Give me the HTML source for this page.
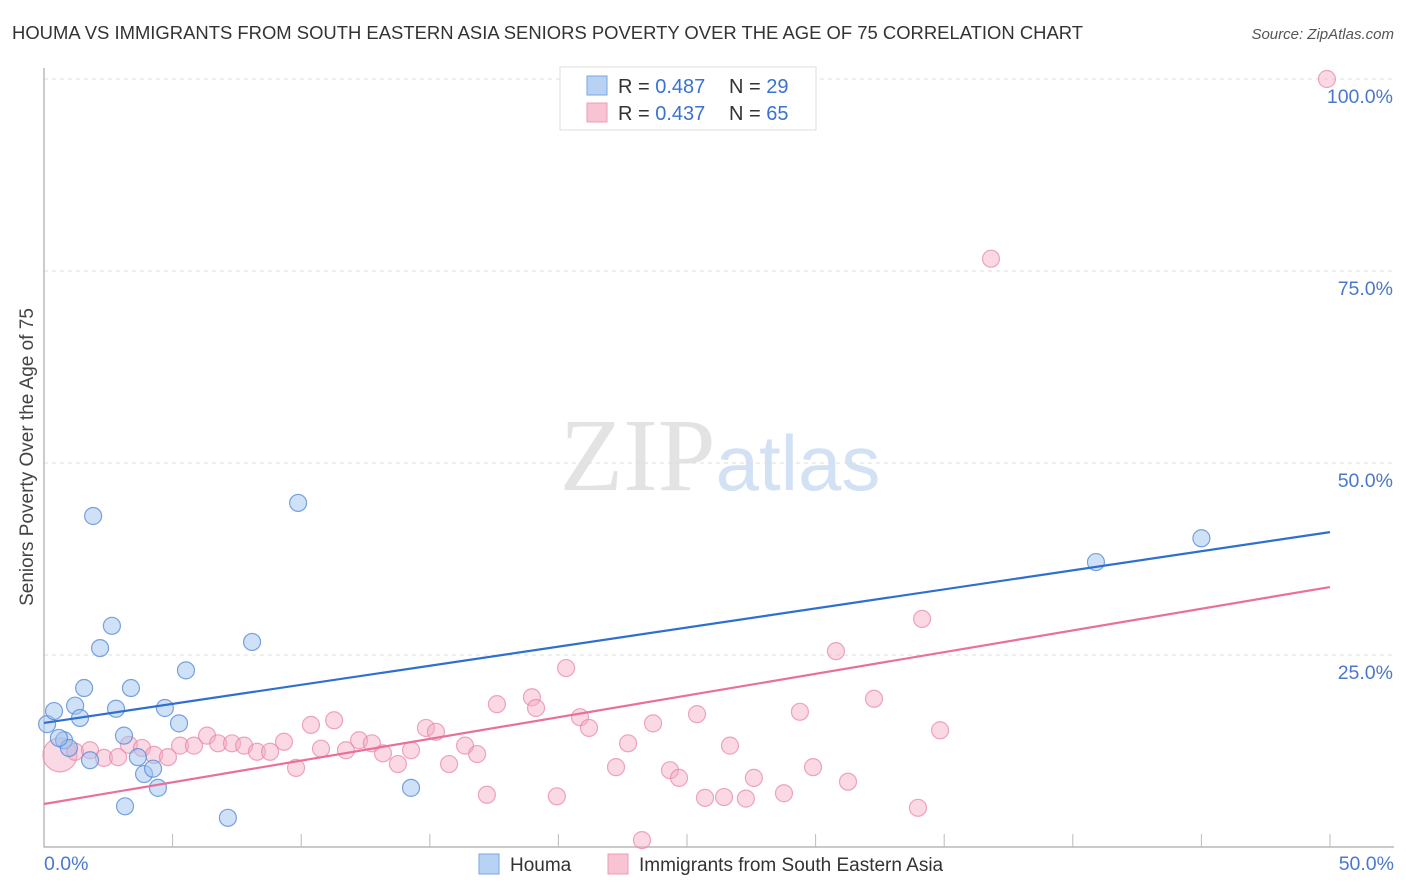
<!DOCTYPE html>
<html><head><meta charset="utf-8"><style>
body{margin:0;background:#fff;font-family:"Liberation Sans",sans-serif}
svg{display:block}
</style></head><body>
<svg id="chart" width="1406" height="892" xmlns="http://www.w3.org/2000/svg">
<text x="12" y="39" font-size="18.5" fill="#333" textLength="1071" lengthAdjust="spacingAndGlyphs">HOUMA VS IMMIGRANTS FROM SOUTH EASTERN ASIA SENIORS POVERTY OVER THE AGE OF 75 CORRELATION CHART</text>
<text x="1394" y="39" font-size="15" fill="#555" text-anchor="end" font-style="italic">Source: ZipAtlas.com</text>
<text x="720" y="490" font-size="104" text-anchor="middle" font-family="Liberation Serif,serif" fill="#ddd" opacity="0.8">ZIP<tspan font-family="Liberation Sans,sans-serif" fill="#c9daf2" font-size="78">atlas</tspan></text>
<text transform="translate(33,457) rotate(-90)" font-size="19" fill="#444" text-anchor="middle">Seniors Poverty Over the Age of 75</text>
<g id="grid"></g><g id="pts"></g><g id="lines"></g>
<g>
<rect x="560" y="67" width="256" height="63" fill="#fff" stroke="#ddd"/>
<rect x="587" y="76" width="20" height="19" fill="#b8d2f4" stroke="#7aa6e0"/>
<rect x="587" y="103" width="20" height="19" fill="#f8c4d4" stroke="#eb9cb6"/>
<text x="618" y="93" font-size="20" fill="#333">R = <tspan fill="#3a72d0">0.487</tspan></text>
<text x="729" y="93" font-size="20" fill="#333">N = <tspan fill="#3a72d0">29</tspan></text>
<text x="618" y="120" font-size="20" fill="#333">R = <tspan fill="#3a72d0">0.437</tspan></text>
<text x="729" y="120" font-size="20" fill="#333">N = <tspan fill="#3a72d0">65</tspan></text>
</g>
<g>
<rect x="479" y="854" width="20" height="20" fill="#b8d2f4" stroke="#7aa6e0"/>
<text x="510" y="871" font-size="19" fill="#333">Houma</text>
<rect x="608" y="854" width="20" height="20" fill="#f8c4d4" stroke="#eb9cb6"/>
<text x="639" y="871" font-size="19" fill="#333">Immigrants from South Eastern Asia</text>
</g>
</svg>
<script>
const blueX=[0.12,0.39,0.78,0.97,1.21,1.40,1.56,1.79,1.91,2.18,2.64,2.80,3.11,3.15,3.38,3.65,3.89,4.24,4.43,4.70,5.25,5.52,7.15,8.09,9.88,14.27,40.9,45.0,0.58];
const blueY=[16.0,17.7,13.9,12.9,18.4,16.8,20.7,11.3,43.1,25.9,28.8,18.0,14.5,5.3,20.7,11.7,9.5,10.2,7.7,18.1,16.1,23.0,3.8,26.7,44.8,7.7,37.1,40.2,14.2];
const pinkX=[0.62,1.21,1.79,2.33,2.88,3.30,3.81,4.28,4.82,5.29,5.83,6.34,6.77,7.31,7.78,8.28,8.79,9.33,9.80,10.38,10.77,11.28,11.74,12.25,12.75,13.18,13.76,14.27,14.85,15.24,15.75,16.37,16.84,17.22,17.61,18.97,19.13,19.94,20.30,20.84,21.19,22.24,22.71,23.25,23.68,24.34,24.69,25.39,25.70,26.44,26.67,27.29,27.60,28.77,29.39,29.90,30.79,31.26,32.27,33.98,34.14,34.84,36.82,49.88];
const pinkY=[12.0,12.4,12.6,11.6,11.7,13.3,12.9,12.0,11.7,13.2,13.2,14.5,13.5,13.5,13.2,12.4,12.4,13.7,10.3,15.9,12.8,16.5,12.6,13.9,13.5,12.2,10.8,12.6,15.5,15.0,10.8,13.2,12.1,6.8,18.6,19.5,18.1,6.6,23.3,16.9,15.5,10.4,13.5,0.9,16.1,10.0,9.0,17.3,6.4,6.5,13.2,6.3,9.0,7.0,17.6,10.4,25.5,8.5,19.3,5.1,29.7,15.2,76.6,100.0];
const blueTrend=[16.15,41.0];
const pinkTrend=[5.6,33.85];
const yTicks=[25,50,75,100];
const xTickLabels=["0.0%","50.0%"];
const NS="http://www.w3.org/2000/svg";
const sx=v=>44+v*25.72, sy=v=>847-v*7.68;
function mk(tag,attrs,parent){const e=document.createElementNS(NS,tag);for(const k in attrs)e.setAttribute(k,attrs[k]);parent.appendChild(e);return e;}
const grid=document.getElementById('grid');
yTicks.forEach(t=>{
 const l=mk('line',{x1:44,x2:1394,y1:sy(t),y2:sy(t),stroke:'#ddd','stroke-dasharray':'4,4'},grid);
 
 
 const tx=mk('text',{x:1393,y:sy(t)+24,'font-size':19.5,fill:'#4a78cc','text-anchor':'end'},grid);
 tx.textContent=t.toFixed(1)+'%';
 
 
});
const ax=mk('path',{d:'M44,68V847H1394',fill:'none',stroke:'#aaa','stroke-width':1.2},grid);


for(let i=1;i<=10;i++){const x=sx(i*5);const t=mk('line',{x1:x,x2:x,y1:834,y2:847,stroke:'#bbb'},grid);
 
 }
[[0,'start',44],[50,'end',1394]].forEach((d,i)=>{const t=mk('text',{x:d[2],y:870,'font-size':19.5,fill:'#4a78cc','text-anchor':d[1]},grid);t.textContent=xTickLabels[i];
 
 });
const pts=document.getElementById('pts');
pinkX.forEach((x,i)=>{const c=mk('circle',{cx:sx(x),cy:sy(pinkY[i]),r:i==0?17:8.5,fill:'rgba(245,170,195,0.45)',stroke:'rgba(232,130,165,0.7)','stroke-width':1.2},pts);
 
 });
blueX.forEach((x,i)=>{const c=mk('circle',{cx:sx(x),cy:sy(blueY[i]),r:8.5,fill:'rgba(160,196,240,0.5)',stroke:'rgba(90,140,215,0.8)','stroke-width':1.2},pts);
 
 });
const lines=document.getElementById('lines');
const bl=mk('line',{x1:sx(0),y1:sy(blueTrend[0]),x2:sx(50),y2:sy(blueTrend[1]),stroke:'#2f6fd0','stroke-width':2.2},lines);


const pl=mk('line',{x1:sx(0),y1:sy(pinkTrend[0]),x2:sx(50),y2:sy(pinkTrend[1]),stroke:'#e8709a','stroke-width':2.2},lines);


</script>
</body></html>
